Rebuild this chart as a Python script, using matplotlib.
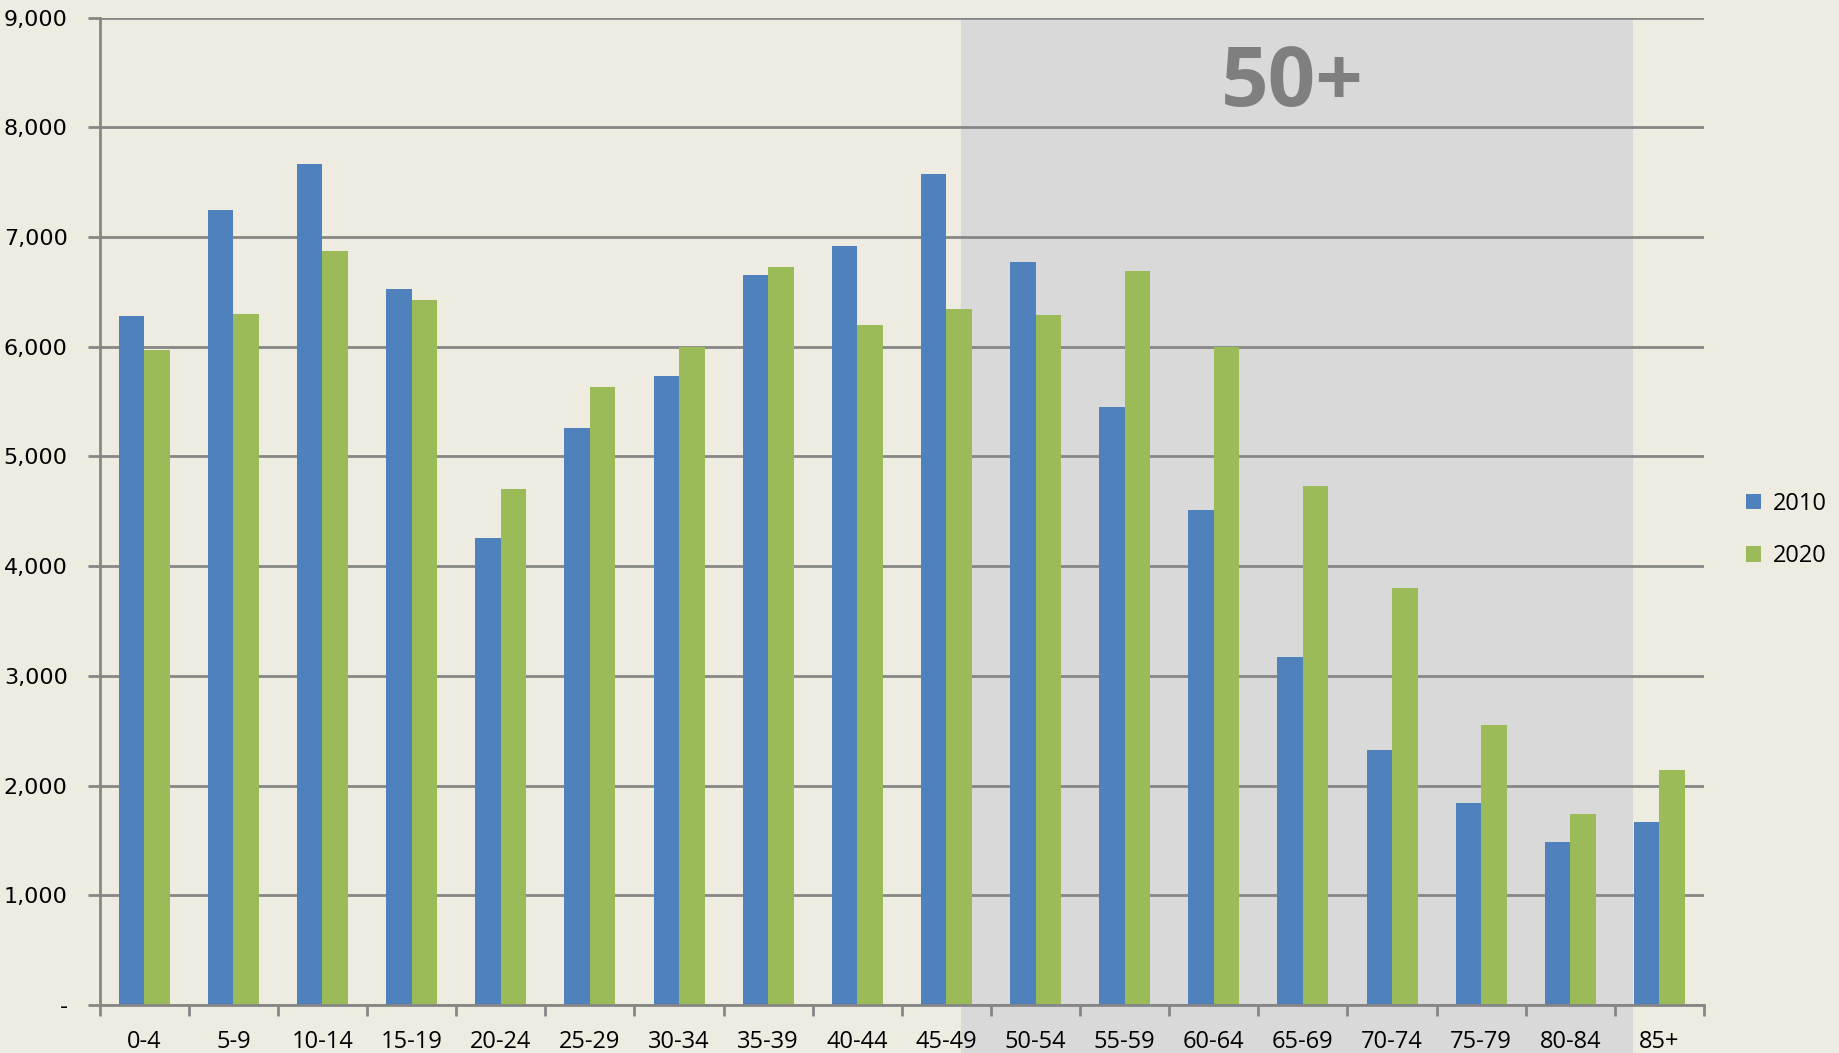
import matplotlib.pyplot as plt
import numpy as np
from matplotlib.patches import Rectangle
from matplotlib.ticker import FuncFormatter
import matplotlib.transforms as mtransforms

# age groups and population
groups = ['0-4', '5-9', '10-14', '15-19', '20-24', '25-29', '30-34', '35-39', '40-44',
          '45-49', '50-54', '55-59', '60-64', '65-69', '70-74', '75-79', '80-84', '85+']
pop_2010 = [6280, 7250, 7665, 6530, 4255, 5260, 5730, 6650, 6915,
            7570, 6775, 5450, 4510, 3175, 2320, 1840, 1485, 1670]
pop_2020 = [5970, 6295, 6875, 6425, 4705, 5635, 5995, 6725, 6200,
            6340, 6285, 6690, 5995, 4735, 3805, 2555, 1745, 2140]
years = ['2010', '2020']

bg = '#EEEBE0'
blue = '#4F81BD'
green = '#9BBB59'
gridc = '#868686'

fig = plt.figure(figsize=(18.39, 10.53), dpi=100, facecolor=bg)
ax = fig.add_axes([0.0542, 0.0456, 0.8724, 0.9377])
ax.set_facecolor(bg)

x = np.arange(len(groups))
w = 0.286
ax.bar(x - w / 2, pop_2010, w, color=blue, label=years[0], zorder=2)
ax.bar(x + w / 2, pop_2020, w, color=green, label=years[1], zorder=2)

# shaded 50+ block, runs down past the axis to the bottom of the figure
trans = mtransforms.blended_transform_factory(ax.transData, ax.transAxes)
ax.add_patch(Rectangle((9.16, -0.06), 16.70 - 9.16, 1.06, transform=trans,
                       facecolor='#D9D9D9', edgecolor='none', zorder=0.2, clip_on=False))
ax.text(12.88, 8390, '50+', fontsize=60, fontweight='bold', color='#7F7F7F',
        family='Open Sans', ha='center', va='center', zorder=3)

ax.set_xlim(-0.5, len(groups) - 0.5)
ax.set_ylim(0, 9000)
ax.set_yticks(np.arange(0, 9001, 1000))
ax.yaxis.set_major_formatter(FuncFormatter(lambda v, p: '-' if v == 0 else f'{int(v):,}'))
ax.grid(axis='y', color=gridc, linewidth=2)
ax.set_axisbelow(True)

ax.set_xticks(np.arange(-0.5, len(groups), 1))
ax.set_xticklabels([])
ax.set_xticks(x, minor=True)
ax.set_xticklabels(groups, minor=True, fontsize=17, family='Open Sans')
ax.tick_params(axis='x', which='major', length=8, width=2, color=gridc, direction='out')
ax.tick_params(axis='x', which='minor', length=0, pad=18)
ax.tick_params(axis='y', length=9, width=2, color=gridc, labelsize=16, pad=14)

for s in ['top', 'right']:
    ax.spines[s].set_visible(False)
for s in ['left', 'bottom']:
    ax.spines[s].set_color(gridc)
    ax.spines[s].set_linewidth(2)
    ax.spines[s].set_zorder(3)

ax.legend(loc='center left', bbox_to_anchor=(1.013, 0.481), frameon=False,
          prop={'family': 'Open Sans', 'size': 17}, handlelength=0.65, handleheight=0.65,
          handletextpad=0.5, labelspacing=1.2)

fig.savefig('out.png', dpi=100, facecolor=bg)
